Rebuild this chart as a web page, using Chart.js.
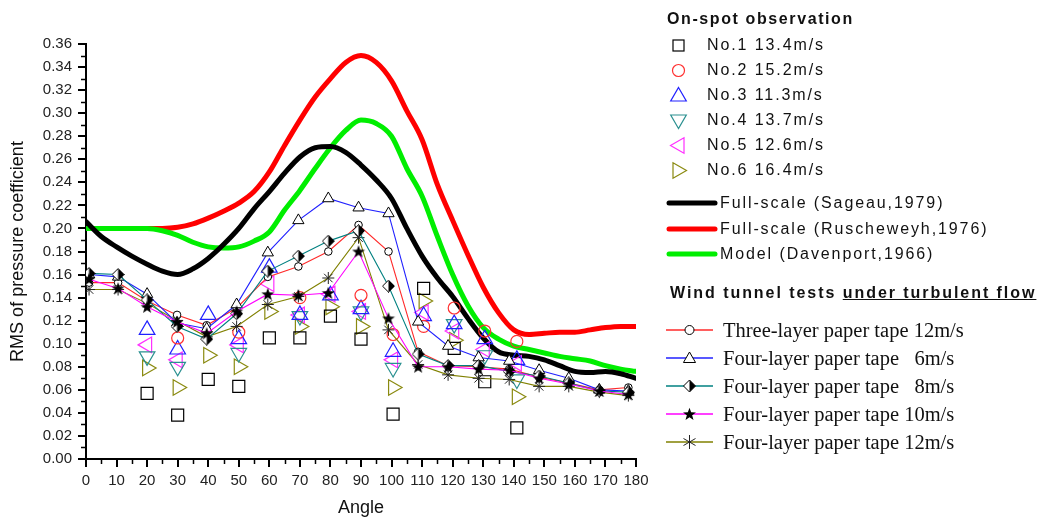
<!DOCTYPE html>
<html>
<head>
<meta charset="utf-8">
<title>RMS of pressure coefficient</title>
<script src="https://cdn.jsdelivr.net/npm/chart.js@4.4.1/dist/chart.umd.min.js"></script>
<style>
  body { margin: 0; background: #fff; }
  #wrap { position: relative; width: 1041px; height: 522px; overflow: hidden; }
  #chart { position: absolute; left: 0; top: 0; }
  .lg { position: absolute; white-space: pre; color: #111; }
  .sans { font-family: 'Liberation Sans', Arial, sans-serif; font-size: 16px; letter-spacing: 1.9px; }
  .head { font-family: 'Liberation Sans', Arial, sans-serif; font-size: 16px; font-weight: bold; letter-spacing: 1.6px; }
  .head.wide { letter-spacing: 1.95px; }
  .serif { font-family: 'Liberation Serif', 'Times New Roman', serif; font-size: 20.5px; }
  .mk { position: absolute; overflow: visible; }
</style>
</head>
<body>
<div id="wrap">
  <canvas id="chart" width="1041" height="522"></canvas>
  <div id="legend"></div>
</div>
<script>
// smooth reference curves, read every 5 degrees
const curveAngles = [0, 5, 10, 15, 20, 25, 30, 35, 40, 45, 50, 55, 60, 65, 70, 75, 80, 85, 90,
    95, 100, 105, 110, 115, 120, 125, 130, 135, 140, 145, 150, 155, 160, 165, 170, 175, 180];
const sageau = [0.206, 0.193, 0.184, 0.176, 0.169, 0.163, 0.160, 0.165, 0.174, 0.186, 0.200, 0.217, 0.232,
    0.248, 0.262, 0.270, 0.271, 0.266, 0.255, 0.242, 0.226, 0.200, 0.176, 0.157, 0.141, 0.122, 0.105,
    0.093, 0.090, 0.089, 0.086, 0.081, 0.076, 0.075, 0.076, 0.074, 0.070];
const ruscheweyh = [0.200, 0.200, 0.200, 0.200, 0.200, 0.200, 0.201, 0.204, 0.209, 0.215, 0.222, 0.232, 0.249,
    0.272, 0.294, 0.314, 0.330, 0.344, 0.350, 0.344, 0.328, 0.302, 0.277, 0.238, 0.207, 0.177, 0.149,
    0.127, 0.112, 0.108, 0.109, 0.110, 0.110, 0.112, 0.114, 0.115, 0.115];
const davenport = [0.200, 0.200, 0.200, 0.200, 0.200, 0.198, 0.194, 0.188, 0.184, 0.183, 0.184, 0.189, 0.197,
    0.216, 0.233, 0.252, 0.270, 0.285, 0.294, 0.291, 0.280, 0.252, 0.228, 0.193, 0.160, 0.133, 0.114,
    0.104, 0.098, 0.095, 0.092, 0.089, 0.087, 0.085, 0.081, 0.078, 0.076];

// on-spot observations
const spotAngles = [20, 30, 40, 50, 60, 70, 80, 90, 100.5, 110.5, 120.5, 130.5, 141];
const spotNo1 = [0.057, 0.038, 0.069, 0.063, 0.105, 0.105, 0.124, 0.104, 0.039, 0.148, 0.096, 0.067, 0.027];
const spotNo2 = [null, 0.105, null, 0.110, null, 0.140, null, 0.142, 0.108, 0.115, 0.131, 0.111, 0.102];
const spotNo3 = [0.112, 0.095, 0.125, 0.104, 0.166, 0.125, 0.142, 0.130, 0.093, 0.124, 0.117, 0.104, 0.086];
const spotNo4 = [0.089, 0.080, null, 0.092, null, 0.124, null, 0.128, 0.079, null, 0.117, 0.090, 0.069];
const spotNo5 = [0.099, 0.086, null, 0.099, 0.152, 0.125, 0.143, 0.128, 0.086, 0.127, 0.111, 0.095, 0.083];
const spotNo6 = [0.079, 0.062, 0.090, 0.080, 0.128, 0.115, 0.132, 0.115, 0.062, 0.137, 0.103, null, 0.054];

// wind tunnel tests
const tunnelAngles = [1, 10.5, 20, 29.8, 39.5, 49.3, 59.5, 69.5, 79.3, 89.2, 99, 108.7, 118.5, 128.5,
    138.5, 148.3, 158, 168, 177.5];
const threeLayer12 = [0.153, 0.153, 0.137, 0.125, 0.116, 0.131, 0.158, 0.167, 0.180, 0.203, 0.180, 0.093,
    0.081, 0.080, 0.078, 0.071, 0.066, 0.060, 0.062];
const fourLayer6 = [0.160, 0.158, 0.143, 0.118, 0.113, 0.134, 0.179, 0.207, 0.226, 0.218, 0.213, 0.119,
    0.098, 0.088, 0.085, 0.077, 0.070, 0.060, 0.059];
const fourLayer8 = [0.161, 0.160, 0.138, 0.115, 0.104, 0.126, 0.163, 0.176, 0.189, 0.198, 0.150, 0.091,
    0.081, 0.081, 0.076, 0.072, 0.066, 0.059, 0.058];
const fourLayer10 = [0.156, 0.148, 0.132, 0.119, 0.109, 0.128, 0.143, 0.142, 0.144, 0.180, 0.122, 0.080,
    0.080, 0.078, 0.077, 0.070, 0.065, 0.059, 0.056];
const fourLayer12 = [0.147, 0.147, 0.135, 0.120, 0.106, 0.115, 0.134, 0.141, 0.157, 0.192, 0.112, 0.082,
    0.073, 0.070, 0.069, 0.063, 0.063, 0.058, 0.055];

const spotLabels = ['No.1 13.4m/s', 'No.2 15.2m/s', 'No.3 11.3m/s', 'No.4 13.7m/s', 'No.5 12.6m/s', 'No.6 16.4m/s'];
const curveLabels = ['Full-scale (Sageau,1979)', 'Full-scale (Ruscheweyh,1976)', 'Model (Davenport,1966)'];
const tunnelLabels = ['Three-layer paper tape 12m/s', 'Four-layer paper tape   6m/s',
    'Four-layer paper tape   8m/s', 'Four-layer paper tape 10m/s', 'Four-layer paper tape 12m/s'];

const colors = {
    black: '#000000', red: '#ff0000', green: '#00ee00',
    spotRed: '#ff3030', spotBlue: '#2020ff', spotTeal: '#2a9090', spotMagenta: '#ff30ff', spotOlive: '#8a8a10',
    lineRed: '#ff2a2a', lineBlue: '#2020ff', lineTeal: '#008080', lineMagenta: '#ff00ff', lineOlive: '#808000',
};

const toPoints = (xs, ys) => xs.map((x, i) => ({ x: x, y: ys[i] }));

function makeHalfDiamond() {
    const c = document.createElement('canvas');
    c.width = 13;
    c.height = 13;
    const g = c.getContext('2d');
    const path = () => {
        g.beginPath();
        g.moveTo(6.5, 0.5);
        g.lineTo(12.5, 6.5);
        g.lineTo(6.5, 12.5);
        g.lineTo(0.5, 6.5);
        g.closePath();
    };
    path();
    g.fillStyle = '#fff';
    g.fill();
    g.beginPath();
    g.moveTo(6.5, 0.5);
    g.lineTo(12.5, 6.5);
    g.lineTo(6.5, 12.5);
    g.closePath();
    g.fillStyle = '#000';
    g.fill();
    path();
    g.strokeStyle = '#000';
    g.lineWidth = 1;
    g.stroke();
    return c;
}

function makeFilledStar() {
    const c = document.createElement('canvas');
    c.width = 14;
    c.height = 14;
    const g = c.getContext('2d');
    g.beginPath();
    for (let i = 0; i < 10; i++) {
        const r = i % 2 === 0 ? 6.8 : 2.8;
        const a = -Math.PI / 2 + i * Math.PI / 5;
        const px = 7 + r * Math.cos(a);
        const py = 7.5 + r * Math.sin(a);
        if (i === 0) g.moveTo(px, py); else g.lineTo(px, py);
    }
    g.closePath();
    g.fillStyle = '#000';
    g.fill();
    return c;
}

function spotDataset(label, ys, style, color, radius, rotation) {
    return {
        label: label,
        data: toPoints(spotAngles, ys),
        showLine: false,
        pointStyle: style,
        pointRotation: rotation || 0,
        pointRadius: radius,
        pointBorderColor: color,
        pointBackgroundColor: 'rgba(0,0,0,0)',
        pointBorderWidth: 1.2,
    };
}

function tunnelDataset(label, ys, lineColor, style, radius, pointColor) {
    return {
        label: label,
        data: toPoints(tunnelAngles, ys),
        borderColor: lineColor,
        borderWidth: 1.1,
        tension: 0,
        pointStyle: style,
        pointRadius: radius,
        pointBorderColor: pointColor || '#000',
        pointBackgroundColor: '#fff',
        pointBorderWidth: 1,
    };
}

function curveDataset(label, ys, color) {
    return {
        label: label,
        data: toPoints(curveAngles, ys),
        borderColor: color,
        borderWidth: 5,
        pointRadius: 0,
        cubicInterpolationMode: 'monotone',
        borderCapStyle: 'round',
    };
}

const minorTicks = {
    id: 'minorTicks',
    afterDraw(chart) {
        const { ctx, chartArea, scales: { x, y } } = chart;
        ctx.save();
        ctx.strokeStyle = '#000';
        ctx.lineWidth = 1.5;
        ctx.beginPath();
        for (let v = 5; v < 180; v += 10) {
            const px = Math.round(x.getPixelForValue(v)) + 0.5;
            ctx.moveTo(px, chartArea.bottom);
            ctx.lineTo(px, chartArea.bottom + 5);
        }
        for (let v = 1; v < 36; v += 2) {
            const py = Math.round(y.getPixelForValue(v / 100)) + 0.5;
            ctx.moveTo(chartArea.left, py);
            ctx.lineTo(chartArea.left - 5, py);
        }
        ctx.stroke();
        ctx.restore();
    }
};

const sansFont = "'Liberation Sans', Arial, sans-serif";

const chart = new Chart(document.getElementById('chart'), {
    type: 'line',
    data: {
        datasets: [
            tunnelDataset(tunnelLabels[3], fourLayer10, colors.lineMagenta, makeFilledStar(), 7),
            tunnelDataset(tunnelLabels[2], fourLayer8, colors.lineTeal, makeHalfDiamond(), 7),
            tunnelDataset(tunnelLabels[1], fourLayer6, colors.lineBlue, 'triangle', 6.5),
            tunnelDataset(tunnelLabels[0], threeLayer12, colors.lineRed, 'circle', 3.8),
            tunnelDataset(tunnelLabels[4], fourLayer12, colors.lineOlive, 'star', 6, '#222'),
            spotDataset(spotLabels[0], spotNo1, 'rect', '#000', 8.5),
            spotDataset(spotLabels[1], spotNo2, 'circle', colors.spotRed, 6),
            spotDataset(spotLabels[2], spotNo3, 'triangle', colors.spotBlue, 9),
            spotDataset(spotLabels[3], spotNo4, 'triangle', colors.spotTeal, 9, 180),
            spotDataset(spotLabels[4], spotNo5, 'triangle', colors.spotMagenta, 9, 270),
            spotDataset(spotLabels[5], spotNo6, 'triangle', colors.spotOlive, 9, 90),
            curveDataset(curveLabels[0], sageau, colors.black),
            curveDataset(curveLabels[2], davenport, colors.green),
            curveDataset(curveLabels[1], ruscheweyh, colors.red),
        ]
    },
    options: {
        responsive: false,
        animation: false,
        layout: { padding: { left: 0, right: 405, top: 44, bottom: 0 } },
        plugins: { legend: { display: false }, tooltip: { enabled: false } },
        scales: {
            x: {
                type: 'linear',
                min: 0,
                max: 180,
                ticks: { stepSize: 10, padding: 5, color: '#222', maxRotation: 0, minRotation: 0, autoSkip: false,
                    font: { family: sansFont, size: 15 } },
                grid: { drawOnChartArea: false, drawTicks: true, tickLength: 8, color: '#000', lineWidth: 2 },
                border: { color: '#000', width: 2 },
                title: { display: true, text: 'Angle', color: '#111', font: { family: sansFont, size: 18 }, padding: { top: 0, bottom: 3 } },
                afterFit: (scale) => { scale.height = 63; },
            },
            y: {
                min: 0,
                max: 0.36,
                ticks: { stepSize: 0.02, padding: 6, color: '#222', font: { family: sansFont, size: 15 },
                    callback: (value) => value.toFixed(2) },
                grid: { drawOnChartArea: false, drawTicks: true, tickLength: 8, color: '#000', lineWidth: 2 },
                border: { color: '#000', width: 2 },
                title: { display: true, text: 'RMS of pressure coefficient', color: '#111', font: { family: sansFont, size: 18 }, padding: { top: 7, bottom: 0 } },
                afterFit: (scale) => { scale.width = 86; },
            }
        }
    },
    plugins: [minorTicks]
});

// legend, drawn as html next to the chart
const legendBox = document.getElementById('legend');

function addText(text, cls, left, cy, lineH) {
    const el = document.createElement('div');
    el.className = 'lg ' + cls;
    el.style.left = left + 'px';
    el.style.top = (cy - lineH / 2) + 'px';
    el.style.lineHeight = lineH + 'px';
    el.textContent = text;
    legendBox.appendChild(el);
    return el;
}

function addSvg(inner, left, top, w, h) {
    const el = document.createElementNS('http://www.w3.org/2000/svg', 'svg');
    el.setAttribute('class', 'mk');
    el.setAttribute('width', w);
    el.setAttribute('height', h);
    el.style.left = left + 'px';
    el.style.top = top + 'px';
    el.innerHTML = inner;
    legendBox.appendChild(el);
}

function triPoints(cx, cy, r, rotDeg) {
    const pts = [];
    for (let k = 0; k < 3; k++) {
        const a = (rotDeg + k * 120) * Math.PI / 180;
        pts.push((cx + Math.sin(a) * r).toFixed(2) + ',' + (cy - Math.cos(a) * r).toFixed(2));
    }
    return pts.join(' ');
}

addText('On-spot observation', 'head', 667, 19, 20);

const spotMarks = [
    '<rect x="5" y="5" width="11" height="11" fill="none" stroke="#000" stroke-width="1.2"/>',
    '<circle cx="10.5" cy="10.5" r="6" fill="none" stroke="' + colors.spotRed + '" stroke-width="1.2"/>',
    '<polygon points="' + triPoints(10.5, 11.5, 9, 0) + '" fill="none" stroke="' + colors.spotBlue + '" stroke-width="1.2"/>',
    '<polygon points="' + triPoints(10.5, 9.5, 9, 180) + '" fill="none" stroke="' + colors.spotTeal + '" stroke-width="1.2"/>',
    '<polygon points="' + triPoints(11.5, 10.5, 9, 270) + '" fill="none" stroke="' + colors.spotMagenta + '" stroke-width="1.2"/>',
    '<polygon points="' + triPoints(9.5, 10.5, 9, 90) + '" fill="none" stroke="' + colors.spotOlive + '" stroke-width="1.2"/>',
];
spotLabels.forEach((label, i) => {
    const cy = 45 + i * 25;
    addSvg(spotMarks[i], 678 - 10.5, cy - 10.5, 21, 21);
    addText(label, 'sans', 707, cy, 20);
});

[colors.black, colors.red, colors.green].forEach((color, i) => {
    const cy = 203 + i * 25.5;
    addSvg('<line x1="2" y1="4" x2="48" y2="4" stroke="' + color + '" stroke-width="5" stroke-linecap="round"/>', 667, cy - 4, 50, 8);
    addText(curveLabels[i], 'sans', 720, cy, 20);
});

const head2 = addText('', 'head wide', 670, 293, 20);
head2.innerHTML = 'Wind tunnel tests <span style="text-decoration: underline;">under turbulent flow</span>';

const starPts = [];
for (let i = 0; i < 10; i++) {
    const r = i % 2 === 0 ? 6.8 : 2.8;
    const a = -Math.PI / 2 + i * Math.PI / 5;
    starPts.push((23.5 + r * Math.cos(a)).toFixed(2) + ',' + (9.5 + r * Math.sin(a)).toFixed(2));
}
const tunnelMarks = [
    '<circle cx="23.5" cy="9" r="4.5" fill="#fff" stroke="#000" stroke-width="1"/>',
    '<polygon points="' + triPoints(23.5, 10, 7, 0) + '" fill="#fff" stroke="#000" stroke-width="1"/>',
    '<polygon points="23.5,3 29.5,9 23.5,15 17.5,9" fill="#fff" stroke="#000"/><polygon points="23.5,3 29.5,9 23.5,15" fill="#000"/>',
    '<polygon points="' + starPts.join(' ') + '" fill="#000"/>',
    '<g stroke="#222" stroke-width="1"><line x1="23.5" y1="2" x2="23.5" y2="16"/><line x1="17.5" y1="5.5" x2="29.5" y2="12.5"/><line x1="17.5" y1="12.5" x2="29.5" y2="5.5"/></g>',
];
const tunnelLineColors = [colors.lineRed, colors.lineBlue, colors.lineTeal, colors.lineMagenta, colors.lineOlive];
tunnelLabels.forEach((label, i) => {
    const cy = 330 + i * 28;
    addSvg('<line x1="0" y1="9" x2="47" y2="9" stroke="' + tunnelLineColors[i] + '" stroke-width="1.3"/>' + tunnelMarks[i], 666, cy - 9, 48, 18);
    addText(label, 'serif', 723, cy, 22);
});
</script>
</body>
</html>
